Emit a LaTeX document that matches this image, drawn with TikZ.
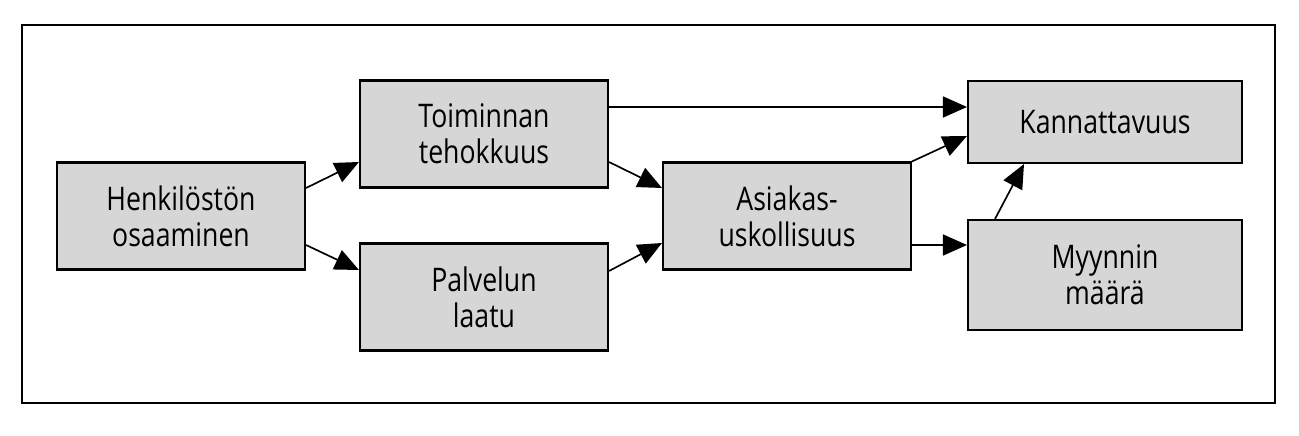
\documentclass[tikz,border=0pt]{standalone}
\usepackage{fontspec}
\setmainfont[FakeStretch=0.82]{Open Sans}
\usetikzlibrary{calc,arrows.meta,positioning}

\begin{document}
\begin{tikzpicture}[x=0.02cm, y=-0.02cm,
	box/.style={draw, line width=1.2pt, fill=black!16, align=center, inner sep=0pt,
		font=\fontsize{18.5}{20.5}\selectfont},
	arr/.style={-{Triangle[length=0.48cm, width=0.42cm]}, line width=0.95pt}]
\def\bw{4.96cm};
\def\bh{2.14cm};
\useasboundingbox (0,0) rectangle (1299,436);
\draw[line width=1.2pt] (22,25) rectangle (1275,403);

\node[box, minimum width=\bw, minimum height=\bh] (henk) at (181,216) {Henkilöstön\\osaaminen};
\node[box, minimum width=\bw, minimum height=\bh] (toim) at (484,134) {Toiminnan\\tehokkuus};
\node[box, minimum width=\bw, minimum height=\bh] (palv) at (484,297) {Palvelun\\laatu};
\node[box, minimum width=\bw, minimum height=\bh] (asia) at (787,216) {Asiakas-\\uskollisuus};
\node[box, minimum width=5.48cm, minimum height=1.64cm] (kann) at (1105,122) {Kannattavuus};
\node[box, minimum width=5.48cm, minimum height=2.2cm] (myyn) at (1105,275) {Myynnin\\määrä};

\draw[arr] (henk.east |- 0,188) -- (toim.west |- 0,162);
\draw[arr] (henk.east |- 0,245) -- (palv.west |- 0,270);
\draw[arr] (toim.east |- 0,162) -- (asia.west |- 0,188);
\draw[arr] (palv.east |- 0,271) -- (asia.west |- 0,243);
\draw[arr] (toim.east |- 0,107) -- (kann.west |- 0,107);
\draw[arr] (asia.north east) -- (kann.west |- 0,136);
\draw[arr] (asia.east |- 0,245) -- (myyn.west |- 0,245);
\draw[arr] (myyn.north west -| 995,0) -- (kann.south west -| 1024,0);

\end{tikzpicture}
\end{document}
